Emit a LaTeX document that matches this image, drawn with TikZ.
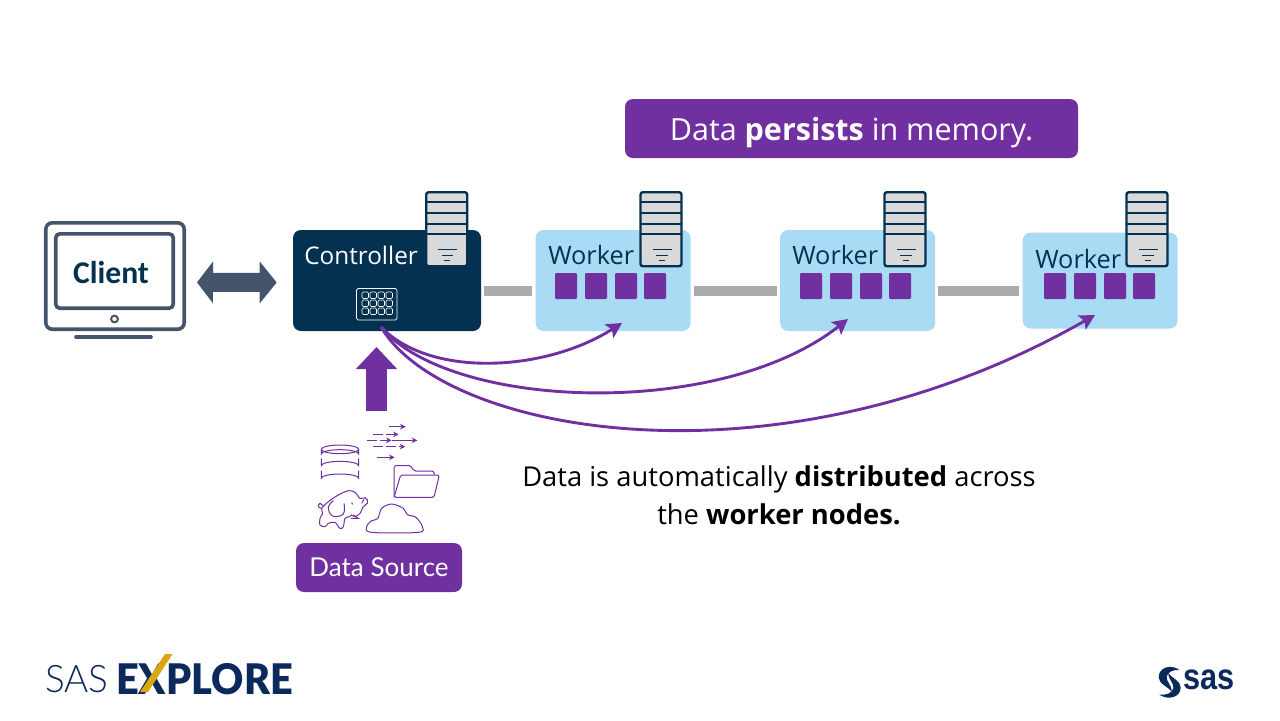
\documentclass[tikz,border=0pt]{standalone}
\usepackage{graphicx}
\usepackage{fontspec}
\setmainfont{Open Sans}
\newfontfamily\calfont{Carlito}
\newfontfamily\latofont{Lato}
\newfontfamily\thinfont{Lato Light}
\newfontfamily\heavyfont{Lato Black}
\newfontfamily\logofont{Liberation Sans}
\usetikzlibrary{arrows.meta,positioning}
\definecolor{navy}{HTML}{03314F}
\definecolor{sky}{HTML}{A9DBF5}
\definecolor{grape}{HTML}{7030A0}
\definecolor{slate}{HTML}{44546A}
\definecolor{bargray}{HTML}{A9ABAE}
\definecolor{gold}{HTML}{DBA70F}
\definecolor{logonavy}{HTML}{0B2A5B}

\begin{document}
\begin{tikzpicture}[x=0.25mm, y=-0.25mm, node distance=1cm]
\tikzset{
    boxnode/.style={rectangle, rounded corners=2mm, inner sep=0pt},
    controllernode/.style={boxnode, fill=navy, minimum width=47mm, minimum height=25.25mm},
    workernode/.style={boxnode, fill=sky, minimum width=38.75mm, minimum height=25.25mm},
    bannernode/.style={boxnode, fill=grape, text=white},
    boxlabel/.style={font=\fontsize{18}{20}\selectfont, anchor=west, inner sep=0pt},
    bodylabel/.style={font=\fontsize{19.45}{27}\selectfont, align=center, text=black},
    linkbar/.style={draw=bargray, line width=2.5mm, shorten >=0.75mm, shorten <=0.75mm},
    fanarrow/.style={draw=grape, line width=0.72mm, -{Stealth[length=3.8mm,width=4mm,inset=0.8mm]}},
    icon/.style={draw=grape, line width=0.25mm},
    iconarrow/.style={icon, -{Stealth[length=1.4mm,width=1.4mm]}},
    taskbox/.style={fill=grape, rounded corners=0.3mm},
    monitor/.style={rectangle, draw=slate, line width=0.9mm, rounded corners=1.6mm, inner sep=0pt},
    serverstack/.pic={
        \draw[navy, fill=black!15, line width=0.6mm, rounded corners=0.6mm] (0,0) rectangle (41,74);
        \draw[navy, line width=0.6mm] (0,10) -- (41,10) (0,21) -- (41,21) (0,32) -- (41,32) (0,42) -- (41,42);
        \draw[navy, line width=0.25mm] (12,57) -- (31,57) (15.5,63) -- (27,63) (18,68) -- (24,68);
    },
    taskrow/.pic={
        \foreach \tx in {0,30,60,89}
            \fill[taskbox] (\tx,0) rectangle ++(22,26);
    }
}
% client and the arrow to the controller
\node[monitor, minimum width=34.6mm, minimum height=26.6mm] (client) at (115,276) {};
\node[monitor, minimum width=29.35mm, minimum height=18.6mm, rounded corners=1mm] (screen) at (114.5,271) {};
\node[font=\calfont\bfseries\fontsize{22.5}{25}\selectfont, text=navy, inner sep=0pt] (clientlabel) at (111,273) {Client};
\node[circle, draw=slate, line width=0.5mm, minimum size=1.7mm, inner sep=0pt] (led) at (114.5,319) {};
\coordinate (standleft) at (76,337);
\coordinate (standright) at (151,337);
\draw[slate, line width=0.9mm, line cap=round] (standleft) -- (standright);

% controller and workers
\node[controllernode] (controller) at (387,280.5) {};
\node[workernode, right=13.5mm of controller] (worker1) {};
\node[workernode, right=22.25mm of worker1] (worker2) {};
\node[workernode, right=21.75mm of worker2, minimum height=24mm] (worker3) {};
\node[boxlabel, text=white, font=\fontsize{17.3}{20}\selectfont] (controllerlabel) at (304,255) {Controller};
\node[boxlabel, text=navy] (worker1label) at (548,255) {Worker};
\node[boxlabel, text=navy] (worker2label) at (792,255) {Worker};
\node[boxlabel, text=navy] (worker3label) at (1035,259) {Worker};

\draw[line width=4.75mm, slate, {Triangle[length=4mm,width=10.25mm]}-{Triangle[length=4.25mm,width=10.25mm]},
      shorten <=2.75mm, shorten >=4mm] ([yshift=-1.6mm]client.east) -- (controller.west |- 0,282.5);

\draw[linkbar] ([yshift=-2.6mm]controller.east) -- ([yshift=-2.6mm]worker1.west);
\draw[linkbar] ([yshift=-2.6mm]worker1.east) -- ([yshift=-2.6mm]worker2.west);
\draw[linkbar] ([yshift=-2.6mm]worker2.east) -- ([yshift=-2.6mm]worker3.west);

\pic at (426.2,192.2) {serverstack};
\pic at (640.5,192.2) {serverstack};
\pic at (884.5,192.2) {serverstack};
\pic at (1126.5,192.2) {serverstack};

\pic at (555,273) {taskrow};
\pic at (800,273) {taskrow};
\pic at (1044,273) {taskrow};

% grid on the controller
\draw[white, line width=0.2mm, rounded corners=0.4mm] (356.5,288.5) rectangle (397,320);
\foreach \gx in {362,370,378,386}
    \foreach \gy in {292,300,308}
        \draw[white, line width=0.15mm, rounded corners=0.3mm] (\gx,\gy) rectangle ++(6.5,6.5);

% distribution arrows
\coordinate (fan) at (381,327);
\coordinate (drop1) at (622,323);
\coordinate (drop2) at (848,319);
\coordinate (drop3) at (1095,315);
\draw[fanarrow] (fan) .. controls (430,378) and (545,372) .. (drop1);
\draw[fanarrow] (fan) .. controls (450,410) and (720,420) .. (drop2);
\draw[fanarrow] (fan) .. controls (445,435) and (780,495) .. (drop3);

% banner
\node[bannernode, minimum width=113.25mm, minimum height=14.75mm, font=\fontsize{21.7}{24}\selectfont, text depth=0pt]
    (persist) at (851.5,128.5) {Data \textbf{persists} in memory.};

% data source
\node[bannernode, minimum width=41.5mm, minimum height=12.25mm, font=\latofont\fontsize{18.5}{20}\selectfont]
    (datasource) at (379,567.5) {Data Source};
\coordinate (feed) at (376.5,411);
\draw[line width=5.25mm, grape, -{Triangle[length=5.5mm,width=10mm]}] (feed) -- (feed |- 0,347);

\begin{scope}[xshift=72.5mm, yshift=-102.5mm, x=0.08333mm, y=-0.08333mm]
    % database
    \draw[icon] (150,118) ellipse (56 and 13);
    \draw[icon] (94,118) -- (94,132) arc[start angle=180, end angle=360, x radius=56, y radius=13] -- (206,118);
    \draw[icon] (94,146) -- (94,167) arc[start angle=180, end angle=360, x radius=56, y radius=13] -- (206,146);
    \draw[icon] (94,182) -- (94,205) arc[start angle=180, end angle=360, x radius=56, y radius=13] -- (206,182);
    % streams
    \draw[iconarrow] (297,50) -- (347,50);
    \draw[iconarrow, dash pattern=on 7pt off 2pt] (250,73) -- (326,73);
    \draw[iconarrow, dash pattern=on 7pt off 2pt] (232,91) -- (305,91);
    \draw[iconarrow] (305,91) -- (382,91);
    \draw[iconarrow, dash pattern=on 7pt off 2pt] (250,110) -- (346,110);
    \draw[iconarrow] (260,142) -- (314,142);
    % folder
    \draw[icon, rounded corners=0.4mm] (312,262) -- (312,167) -- (362,167) -- (372,183) -- (432,183) -- (432,195);
    \draw[icon, rounded corners=0.4mm] (312,262) -- (332,195) -- (448,195) -- (432,262) -- cycle;
    % elephant
    \draw[icon, smooth cycle, tension=0.5] plot coordinates {(95,295) (115,275) (145,255) (175,242) (195,247) (210,265)
        (225,263) (232,270) (232,280) (220,290) (210,310) (195,320) (185,315) (178,320) (165,325) (160,350) (150,355)
        (135,337) (115,340) (105,350) (90,345) (90,325) (98,310)};
    \draw[icon, smooth, tension=0.7] plot coordinates {(130,272) (115,292) (128,318) (160,312) (162,280)};
    \draw[icon, smooth, tension=0.7] plot coordinates {(95,295) (85,290) (90,280) (98,287)};
    \draw[icon] (190,315) -- (205,325) -- (183,325);
    \draw[icon] (222,268) -- (215,280) (185,278) -- (188,283);
    % cloud
    \draw[icon, smooth cycle, tension=0.55] plot coordinates {(245,367) (230,350) (245,332) (263,326)
        (275,295) (305,282) (340,295) (352,314) (378,322) (397,350) (385,367)};
\end{scope}

% text below the arrows
\node[bodylabel] (note) at (779,495.5) {Data is automatically \textbf{distributed} across\\the \textbf{worker nodes.}};

% logos
\node[font=\thinfont\fontsize{27}{30}\selectfont, text=logonavy, anchor=west, inner sep=0pt] (saslabel) at (45,679) {\scalebox{0.97}[1]{SAS}};
\node[font=\heavyfont\fontsize{30}{33}\selectfont, text=logonavy, anchor=west, inner sep=0pt] (explorelabel) at (116,679) {\scalebox{0.94}[1]{EXPLORE}};
\fill[gold] (165,654) -- (172.5,654) -- (148,692) -- (140,692) -- cycle;
\node[font=\logofont\bfseries\fontsize{26}{27}\selectfont, text=logonavy, anchor=west, inner sep=0pt] (sasmark) at (1183,680) {\scalebox{0.84}[1]{sas}};
\begin{scope}[xshift=285mm, yshift=-162.5mm, x=0.08333mm, y=-0.08333mm]
    \fill[logonavy] (118,60) .. controls (95,42) and (56,50) .. (56,82) .. controls (56,102) and (85,110) .. (96,126)
        .. controls (96,105) and (78,95) .. (80,80) .. controls (82,66) and (100,58) .. (118,60) -- cycle;
    \fill[logonavy] (58,134) .. controls (85,152) and (122,142) .. (122,112) .. controls (122,92) and (95,85) .. (84,68)
        .. controls (84,88) and (102,98) .. (100,114) .. controls (97,130) and (78,136) .. (58,134) -- cycle;
\end{scope}

\useasboundingbox (0,0) rectangle (1280,720);
\end{tikzpicture}
\end{document}
